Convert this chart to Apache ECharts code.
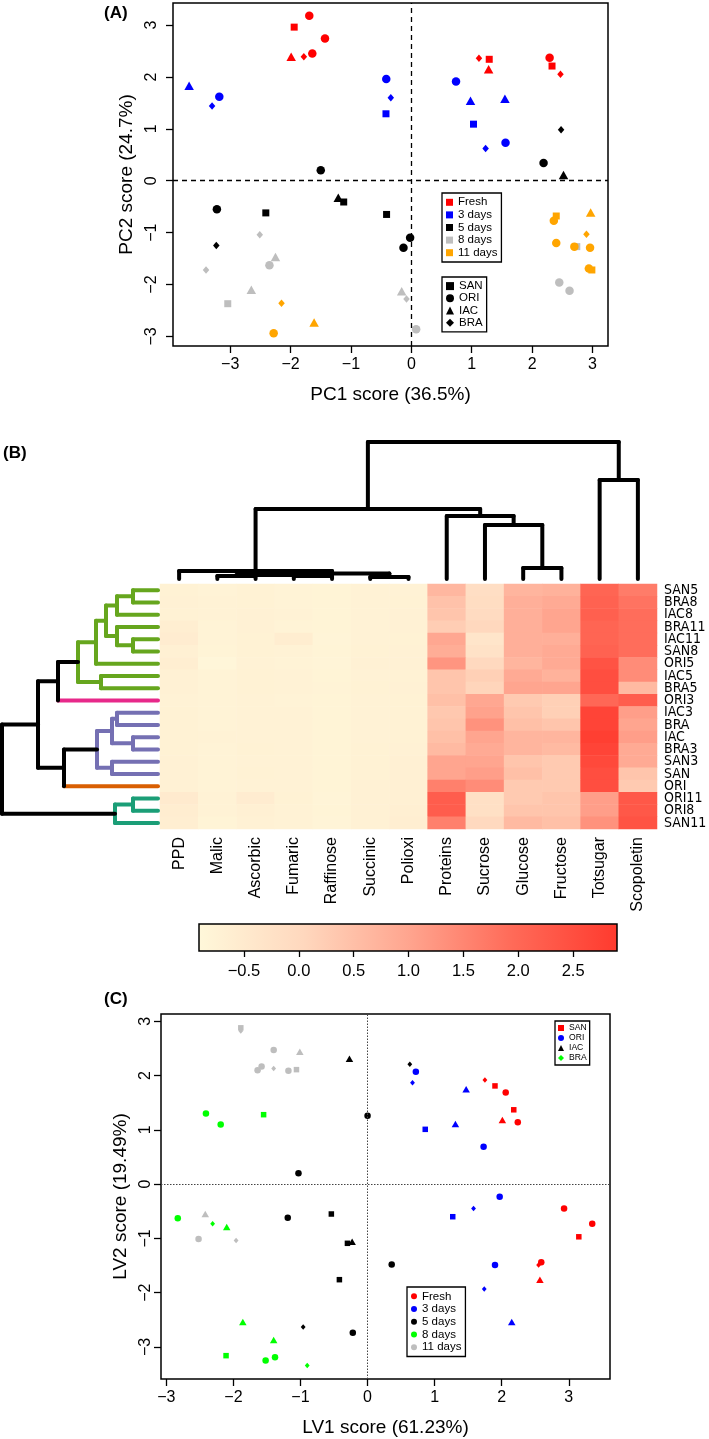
<!DOCTYPE html>
<html><head><meta charset="utf-8">
<script src="https://cdn.jsdelivr.net/npm/echarts@6/dist/echarts.min.js"></script>
<style>html,body{margin:0;padding:0;background:#fff}#c{width:709px;height:1439px}</style>
</head><body><div id="c"></div>
<script>
// ---------- Panel A: PCA scores [PC1, PC2, cultivar] per storage day ----------
const pcaFresh = [[-1.94,2.96,'SAN'],[1.29,2.34,'SAN'],[2.33,2.21,'SAN'],
  [-1.69,3.18,'ORI'],[-1.43,2.74,'ORI'],[-1.64,2.45,'ORI'],[2.29,2.37,'ORI'],
  [-1.99,2.39,'IAC'],[1.28,2.15,'IAC'],
  [-1.78,2.39,'BRA'],[1.12,2.36,'BRA'],[2.47,2.05,'BRA']];
const pca3d = [[-0.42,1.29,'SAN'],[1.03,1.09,'SAN'],
  [-3.18,1.62,'ORI'],[-0.415,1.96,'ORI'],[0.74,1.91,'ORI'],[1.56,0.73,'ORI'],
  [-3.68,1.83,'IAC'],[0.98,1.54,'IAC'],[1.55,1.58,'IAC'],
  [-3.30,1.44,'BRA'],[-0.34,1.60,'BRA'],[1.23,0.62,'BRA']];
const pca5d = [[-2.41,-0.62,'SAN'],[-1.12,-0.41,'SAN'],[-0.41,-0.65,'SAN'],
  [-1.50,0.20,'ORI'],[2.19,0.34,'ORI'],[-3.22,-0.55,'ORI'],[-0.02,-1.10,'ORI'],[-0.13,-1.29,'ORI'],
  [2.52,0.11,'IAC'],[-1.21,-0.33,'IAC'],
  [2.48,0.98,'BRA'],[-3.23,-1.25,'BRA']];
const pca8d = [[-3.04,-2.37,'SAN'],[2.74,-1.27,'SAN'],
  [-2.35,-1.63,'ORI'],[0.08,-2.86,'ORI'],[2.45,-1.96,'ORI'],[2.62,-2.12,'ORI'],
  [-2.25,-1.47,'IAC'],[-2.65,-2.10,'IAC'],[-0.16,-2.13,'IAC'],
  [-2.51,-1.04,'BRA'],[-3.40,-1.72,'BRA'],[-0.08,-2.28,'BRA']];
const pca11d = [[2.40,-0.68,'SAN'],[2.99,-1.72,'SAN'],
  [-2.28,-2.94,'ORI'],[2.36,-0.77,'ORI'],[2.40,-1.20,'ORI'],[2.70,-1.27,'ORI'],[2.96,-1.29,'ORI'],[2.94,-1.69,'ORI'],
  [-1.61,-2.73,'IAC'],[2.97,-0.61,'IAC'],
  [-2.15,-2.36,'BRA'],[2.90,-1.03,'BRA']];
const pcaTicks = [-3,-2,-1,0,1,2,3];

// ---------- Panel C: PLS-DA scores [LV1, LV2, cultivar] ----------
const lvFresh = [[1.90,1.81,'SAN'],[2.18,1.37,'SAN'],[3.15,-0.97,'SAN'],
  [2.06,1.69,'ORI'],[2.24,1.14,'ORI'],[2.93,-0.45,'ORI'],[3.35,-0.73,'ORI'],[2.59,-1.44,'ORI'],
  [2.01,1.18,'IAC'],[2.57,-1.76,'IAC'],
  [1.75,1.92,'BRA'],[2.55,-1.49,'BRA']];
const lv3d = [[0.86,1.01,'SAN'],[1.27,-0.60,'SAN'],
  [0.72,2.07,'ORI'],[1.73,0.69,'ORI'],[1.97,-0.23,'ORI'],[1.90,-1.49,'ORI'],
  [1.47,1.75,'IAC'],[1.31,1.11,'IAC'],[2.15,-2.54,'IAC'],
  [0.67,1.87,'BRA'],[1.58,-0.45,'BRA'],[1.74,-1.93,'BRA']];
const lv5d = [[-0.54,-0.55,'SAN'],[-0.30,-1.09,'SAN'],[-0.42,-1.76,'SAN'],
  [0.00,1.26,'ORI'],[-1.03,0.20,'ORI'],[-1.19,-0.62,'ORI'],[0.36,-1.48,'ORI'],[-0.22,-2.74,'ORI'],
  [-0.27,2.31,'IAC'],[-0.23,-1.06,'IAC'],
  [0.63,2.21,'BRA'],[-0.96,-2.63,'BRA']];
const lv8d = [[-1.55,1.28,'SAN'],[-2.11,-3.16,'SAN'],
  [-2.41,1.30,'ORI'],[-2.19,1.10,'ORI'],[-2.83,-0.63,'ORI'],[-1.52,-3.25,'ORI'],[-1.38,-3.19,'ORI'],
  [-2.10,-0.79,'IAC'],[-1.86,-2.54,'IAC'],[-1.40,-2.87,'IAC'],
  [-2.31,-0.73,'BRA'],[-0.90,-3.34,'BRA']];
const lv11d = [[-1.89,2.88,'SAN'],[-1.06,2.11,'SAN'],
  [-1.40,2.47,'ORI'],[-1.58,2.17,'ORI'],[-1.64,2.10,'ORI'],[-1.18,2.09,'ORI'],[-2.52,-1.01,'ORI'],
  [-1.01,2.44,'IAC'],[-2.42,-0.55,'IAC'],
  [-1.89,2.82,'BRA'],[-1.40,2.13,'BRA'],[-1.96,-1.04,'BRA']];
const lvTicks = [-3,-2,-1,0,1,2,3];

// ---------- Panel B: heatmap ----------
const heatCols = ['PPD','Malic','Ascorbic','Fumaric','Raffinose','Succinic','Polioxi','Proteins','Sucrose','Glucose','Fructose','Totsugar','Scopoletin'];
const heatRows = ['SAN5','BRA8','IAC8','BRA11','IAC11','SAN8','ORI5','IAC5','BRA5','ORI3','IAC3','BRA','IAC','BRA3','SAN3','SAN','ORI','ORI11','ORI8','SAN11'];
const heatValues = [
  [-0.72,-0.76,-0.72,-0.76,-0.78,-0.74,-0.74, 0.65,-0.15,0.70,0.75,2.05,1.65],
  [-0.70,-0.74,-0.72,-0.76,-0.78,-0.74,-0.72, 0.45,-0.10,0.80,0.90,2.10,1.80],
  [-0.72,-0.74,-0.70,-0.74,-0.78,-0.74,-0.70, 0.40,-0.05,0.80,1.00,2.15,1.90],
  [-0.62,-0.76,-0.70,-0.76,-0.78,-0.74,-0.70, 0.25, 0.05,0.80,1.00,2.05,1.90],
  [-0.56,-0.76,-0.72,-0.58,-0.80,-0.74,-0.72, 0.95,-0.35,0.80,0.80,2.05,1.90],
  [-0.66,-0.78,-0.72,-0.74,-0.78,-0.72,-0.70, 0.85,-0.25,0.80,0.90,2.10,1.90],
  [-0.60,-0.86,-0.74,-0.76,-0.80,-0.70,-0.70, 1.25, 0.00,0.70,0.90,2.40,1.40],
  [-0.70,-0.76,-0.72,-0.74,-0.78,-0.74,-0.72, 0.40, 0.20,0.90,0.75,2.50,1.40],
  [-0.70,-0.76,-0.72,-0.74,-0.76,-0.72,-0.70, 0.40, 0.10,1.00,1.00,2.50,0.60],
  [-0.74,-0.76,-0.74,-0.76,-0.78,-0.74,-0.72, 0.50, 0.95,0.30,0.20,2.00,2.20],
  [-0.72,-0.76,-0.74,-0.74,-0.78,-0.74,-0.72, 0.35, 1.05,0.40,0.20,2.70,1.10],
  [-0.72,-0.76,-0.74,-0.74,-0.78,-0.74,-0.72, 0.40, 1.30,0.50,0.40,2.70,1.00],
  [-0.72,-0.74,-0.74,-0.74,-0.78,-0.74,-0.72, 0.50, 1.00,0.70,0.70,2.80,1.10],
  [-0.72,-0.76,-0.72,-0.74,-0.78,-0.72,-0.70, 0.60, 0.90,0.70,0.60,2.70,0.90],
  [-0.70,-0.76,-0.74,-0.74,-0.78,-0.72,-0.68, 1.00, 1.00,0.40,0.30,2.60,0.90],
  [-0.70,-0.76,-0.72,-0.74,-0.78,-0.72,-0.66, 1.00, 1.10,0.50,0.30,2.50,0.40],
  [-0.70,-0.76,-0.74,-0.74,-0.78,-0.70,-0.66, 1.60, 1.40,0.30,0.30,2.50,0.30],
  [-0.50,-0.74,-0.56,-0.72,-0.80,-0.70,-0.66, 2.20,-0.20,0.30,0.40,1.10,2.30],
  [-0.58,-0.74,-0.68,-0.74,-0.78,-0.70,-0.64, 2.20,-0.20,0.40,0.40,1.10,2.30],
  [-0.60,-0.78,-0.70,-0.74,-0.80,-0.70,-0.60, 1.60, 0.00,0.60,0.50,1.30,2.40]
];
const colorbarRange = [-0.91, 2.90];
const colorbarTicks = [-0.5,0,0.5,1,1.5,2,2.5];
const heatColors = ['#FFF8DA','#FFD8BE','#FFA58F','#FF6A58','#FF3A2E'];

// Dendrograms (R hclust style merges: negative = leaf index (1-based), positive = earlier merge)
const rowMerges = [[-1,-2,25],[1,-3,41],[-5,-6,25],[-4,3,41],[2,4,52],[5,-7,62],[-8,-9,57],[6,7,80],
  [8,-10,100],[-11,-12,41],[-13,-14,25],[10,11,46],[-15,-16,46],[12,13,61],[14,-17,94],[9,15,120],
  [-18,-19,25],[17,-20,43],[16,18,156]];
const rowClusters = [[1,9,'#66A61E'],[10,10,'#E7298A'],[11,16,'#7570B3'],[17,17,'#D95F02'],[18,20,'#1B9E77']];
const colMerges = [[-2,-3,3],[-4,-5,3],[-6,-7,2],[1,2,4],[4,3,5.5],[-1,5,8],[-10,-11,11],[-9,7,54],
  [-8,8,63],[6,9,70],[-12,-13,99],[10,11,137]];

// ---------- helpers ----------
const FONT = "'Liberation Sans', Arial, Helvetica, sans-serif";
const NARROW = "'Liberation Sans Narrow', 'Arial Narrow', 'DejaVu Sans Condensed', sans-serif";
const SHAPE = {SAN:'rect', ORI:'circle', IAC:'triangle', BRA:'diamond'};
const sizeA = {SAN:[7,7], ORI:8.5, IAC:[9.5,8.5], BRA:[6.5,7.5]};
const sizeC = {SAN:[5.5,5.5], ORI:6.5, IAC:[7.5,6.5], BRA:[4.8,5.5]};
const minus = v => v < 0 ? '\u2212' + Math.abs(v) : String(v);
const minus1 = v => (v < 0 ? '\u2212' : '') + Math.abs(v).toFixed(1);
const pts = (arr, sz) => arr.map(d => ({value:[d[0], d[1]], symbol:SHAPE[d[2]], symbolSize:sz[d[2]]}));

function dendro(merges, leafColor) {
  const nodes = [], segs = [];
  const info = c => c < 0 ? {pos:-c-1, h:0, color:leafColor(-c), leaf:true} : nodes[c-1];
  merges.forEach(([a,b,h]) => {
    const A = info(a), B = info(b);
    const color = (A.color !== '#000' && A.color === B.color) ? A.color : '#000';
    const edge = C => (C.color !== '#000' && (C.leaf || C.color === color)) ? C.color : '#000';
    segs.push({p:[[A.pos,A.h],[A.pos,h]], color:edge(A)});
    segs.push({p:[[B.pos,B.h],[B.pos,h]], color:edge(B)});
    segs.push({p:[[A.pos,h],[B.pos,h]], color:color});
    nodes.push({pos:(A.pos+B.pos)/2, h:h, color:color, leaf:false});
  });
  return segs;
}
const rowLeafColor = i => { const c = rowClusters.find(r => i >= r[0] && i <= r[1]); return c ? c[2] : '#000'; };
const rowSegs = dendro(rowMerges, rowLeafColor).map(s => ({coords:s.p.map(q => [q[1], q[0]]), lineStyle:{color:s.color}}));
const colSegs = dendro(colMerges, () => '#000').map(s => ({coords:s.p, lineStyle:{color:s.color}}));

const heatData = [];
heatValues.forEach((row, r) => row.forEach((v, c) => heatData.push([c, r, v])));

const tickStyle = {lineStyle:{color:'#000', width:1.3}};
function scatterAxes(grid, xr, yr, ticks, xname, yname, ylabMargin, ynameGap) {
  return {
    x: {gridIndex:grid, type:'value', min:xr[0], max:xr[1], axisLine:{show:false, onZero:false}, splitLine:{show:false},
        axisTick:{customValues:ticks, length:7, ...tickStyle},
        axisLabel:{customValues:ticks, formatter:minus, fontSize:16, fontFamily:FONT, color:'#000', margin:11},
        name:xname, nameLocation:'middle', nameGap:39, nameTextStyle:{fontSize:19, fontFamily:FONT, color:'#000'}},
    y: {gridIndex:grid, type:'value', min:yr[0], max:yr[1], axisLine:{show:false, onZero:false}, splitLine:{show:false},
        axisTick:{customValues:ticks, length:7, ...tickStyle},
        axisLabel:{customValues:ticks, formatter:minus, fontSize:16, fontFamily:FONT, color:'#000', margin:ylabMargin, rotate:90},
        name:yname, nameLocation:'middle', nameGap:ynameGap, nameTextStyle:{fontSize:19, fontFamily:FONT, color:'#000'}}
  };
}
const axA = scatterAxes(0, [-3.947,3.257], [-3.185,3.425], pcaTicks, 'PC1 score (36.5%)', 'PC2 score (24.7%)', 13, 36);
const axC = scatterAxes(1, [-3.08,3.615], [-3.59,3.135], lvTicks, 'LV1 score (61.23%)', 'LV2 score (19.49%)', 7, 31);

const hidden = {axisLine:{show:false, onZero:false}, axisTick:{show:false}, axisLabel:{show:false}, splitLine:{show:false}};

const series = [];
function sc(name, data, color, grid, extra) {
  series.push(Object.assign({type:'scatter', name:name, xAxisIndex:grid, yAxisIndex:grid, data:data,
    itemStyle:{color:color, opacity:1}, symbol:'circle', emphasis:{disabled:true}}, extra || {}));
}
const zeroA = {markLine:{silent:true, symbol:'none', label:{show:false}, lineStyle:{type:[5,4], color:'#000', width:1.3},
  data:[{xAxis:0},{yAxis:0}]}};
const zeroC = {markLine:{silent:true, symbol:'none', label:{show:false}, lineStyle:{type:[1.5,1.5], color:'#444', width:1},
  data:[{xAxis:0},{yAxis:0}]}};
sc('a:Fresh', pts(pcaFresh, sizeA), '#FF0000', 0, zeroA);
sc('a:3 days', pts(pca3d, sizeA), '#0000FF', 0);
sc('a:5 days', pts(pca5d, sizeA), '#000000', 0);
sc('a:8 days', pts(pca8d, sizeA), '#BEBEBE', 0);
sc('a:11 days', pts(pca11d, sizeA), '#FFA500', 0);
['SAN','ORI','IAC','BRA'].forEach(n => sc('a2:' + n, [], '#000000', 0, {symbol:SHAPE[n]}));
sc('c:Fresh', pts(lvFresh, sizeC), '#FF0000', 1, zeroC);
sc('c:3 days', pts(lv3d, sizeC), '#0000FF', 1);
sc('c:5 days', pts(lv5d, sizeC), '#000000', 1);
sc('c:8 days', pts(lv8d, sizeC), '#00FF00', 1);
sc('c:11 days', pts(lv11d, sizeC), '#BEBEBE', 1);
const c1col = {SAN:'#FF0000', ORI:'#0000FF', IAC:'#000000', BRA:'#00FF00'};
['SAN','ORI','IAC','BRA'].forEach(n => sc('c1:' + n, [], c1col[n], 1, {symbol:SHAPE[n]}));
const heatIndex = series.length;
series.push({type:'heatmap', xAxisIndex:2, yAxisIndex:2, data:heatData, itemStyle:{borderWidth:0}, emphasis:{disabled:true}, progressive:0});
series.push({type:'lines', coordinateSystem:'cartesian2d', xAxisIndex:3, yAxisIndex:3, polyline:true, data:colSegs,
  lineStyle:{width:4, cap:'round', opacity:1}, silent:true});
series.push({type:'lines', coordinateSystem:'cartesian2d', xAxisIndex:4, yAxisIndex:4, polyline:true, data:rowSegs,
  lineStyle:{width:4, cap:'round', opacity:1}, silent:true});
series.push({type:'custom', xAxisIndex:5, yAxisIndex:5, data:[colorbarRange], silent:true,
  renderItem:(params, api) => {
    const p0 = api.coord([api.value(0), 0]), p1 = api.coord([api.value(1), 1]);
    return {type:'rect', shape:{x:p0[0], y:p1[1], width:p1[0]-p0[0], height:p0[1]-p1[1]},
      style:{fill:new echarts.graphic.LinearGradient(0,0,1,0, heatColors.map((c,i) => ({offset:i/(heatColors.length-1), color:c}))),
        stroke:'#000', lineWidth:1.5}};
  }});

const legText = (fs, lh) => ({fontSize:fs, lineHeight:lh, fontFamily:FONT, color:'#000'});
const strip = n => n.split(':')[1];
const option = {
  animation:false,
  backgroundColor:'#fff',
  grid:[
    {left:173, top:3, width:435, height:343, show:true, borderColor:'#000', borderWidth:1.5, outerBoundsMode:'none'},
    {left:161, top:1014, width:449, height:365, show:true, borderColor:'#000', borderWidth:1.5, outerBoundsMode:'none'},
    {left:160, top:584, width:497, height:245, outerBoundsMode:'none'},
    {left:160, top:440, width:497, height:139, outerBoundsMode:'none'},
    {left:0, top:584, width:158, height:245, outerBoundsMode:'none'},
    {left:199, top:924, width:418, height:27, outerBoundsMode:'none'}
  ],
  xAxis:[axA.x, axC.x,
    {gridIndex:2, type:'category', data:heatCols, axisLine:{show:false}, axisTick:{show:false}, splitLine:{show:false},
      axisLabel:{interval:0, rotate:90, fontSize:16, fontFamily:FONT, color:'#000', margin:8}},
    Object.assign({gridIndex:3, type:'value', min:-0.5, max:12.5}, hidden),
    Object.assign({gridIndex:4, type:'value', min:0, max:158, inverse:true}, hidden),
    {gridIndex:5, type:'value', min:colorbarRange[0], max:colorbarRange[1], axisLine:{show:false, onZero:false}, splitLine:{show:false},
      axisTick:{customValues:colorbarTicks, length:6, ...tickStyle},
      axisLabel:{customValues:colorbarTicks, formatter:minus1, fontSize:16.5, fontFamily:FONT, color:'#000', margin:12}}
  ],
  yAxis:[axA.y, axC.y,
    {gridIndex:2, type:'category', data:heatRows, inverse:true, position:'right', axisLine:{show:false}, axisTick:{show:false}, splitLine:{show:false},
      axisLabel:{interval:0, fontSize:14, fontFamily:NARROW, color:'#000', margin:7}},
    Object.assign({gridIndex:3, type:'value', min:0, max:139}, hidden),
    Object.assign({gridIndex:4, type:'value', min:-0.5, max:19.5, inverse:true}, hidden),
    Object.assign({gridIndex:5, type:'value', min:0, max:1}, hidden)
  ],
  visualMap:[{type:'continuous', show:false, min:colorbarRange[0], max:colorbarRange[1], dimension:2, seriesIndex:heatIndex,
    inRange:{color:heatColors}}],
  legend:[
    {left:442, top:193, orient:'vertical', selectedMode:false, icon:'rect', itemWidth:7, itemHeight:7, itemGap:0,
      padding:[3,4,3,4], borderColor:'#000', borderWidth:1.3, formatter:strip, textStyle:legText(11.5,12.6),
      data:['a:Fresh','a:3 days','a:5 days','a:8 days','a:11 days']},
    {left:442, top:277, orient:'vertical', selectedMode:false, itemWidth:8, itemHeight:8, itemGap:0,
      padding:[3,4,3,4], borderColor:'#000', borderWidth:1.3, formatter:strip, textStyle:legText(11.5,12.2),
      data:[{name:'a2:SAN', icon:'rect'},{name:'a2:ORI', icon:'circle'},{name:'a2:IAC', icon:'triangle'},{name:'a2:BRA', icon:'diamond'}]},
    {left:555, top:1021, orient:'vertical', selectedMode:false, itemWidth:6, itemHeight:6, itemGap:0,
      padding:[2,3,2,3], borderColor:'#000', borderWidth:1.3, formatter:strip, textStyle:legText(8.6,10),
      data:[{name:'c1:SAN', icon:'rect'},{name:'c1:ORI', icon:'circle'},{name:'c1:IAC', icon:'triangle'},{name:'c1:BRA', icon:'diamond'}]},
    {left:407, top:1287, orient:'vertical', selectedMode:false, icon:'circle', itemWidth:6, itemHeight:6, itemGap:0,
      padding:[3,4,3,4], borderColor:'#000', borderWidth:1.3, formatter:strip, textStyle:legText(11.5,12.7),
      data:['c:Fresh','c:3 days','c:5 days','c:8 days','c:11 days']}
  ],
  graphic:[
    {type:'text', left:104, top:5, style:{text:'(A)', font:'bold 17px ' + FONT, fill:'#000'}},
    {type:'text', left:3, top:445, style:{text:'(B)', font:'bold 17px ' + FONT, fill:'#000'}},
    {type:'text', left:104, top:991, style:{text:'(C)', font:'bold 17px ' + FONT, fill:'#000'}}
  ],
  series:series
};
const chart = echarts.init(document.getElementById('c'), null, {renderer:'canvas', width:709, height:1439});
chart.setOption(option);
</script></body></html>
